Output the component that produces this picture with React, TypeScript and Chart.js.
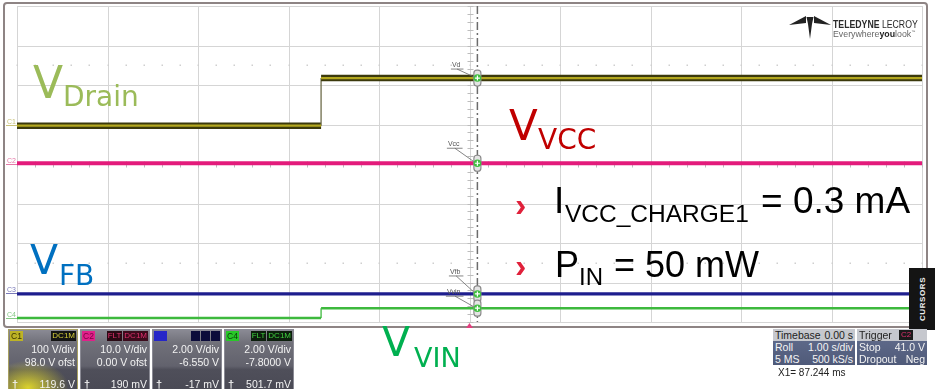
import React, { useEffect, useRef } from "react";
import { Chart, registerables } from "chart.js";
Chart.register(...registerables);

// ---------------- data ----------------
const timeS = [-5, -1.64, -1.64, 5]; // seconds, 1 s/div, trigger at centre
const vDrain = [-1.0, -1.0, 119.6, 119.6]; // C1 (V)
const vVcc = [0.19, 0.19, 0.19, 0.19]; // C2 (V)
const vFb = [-0.03, -0.03, -0.03, -0.03]; // C3 (V)
const vVin = [0.0, 0.0, 0.5, 0.5]; // C4 (V)
const voltsPerDiv = [100, 10, 2, 2];
const offsetsV = [98.0, 0.0, -6.55, -7.8];
const channelNames = ["C1", "C2", "C3", "C4"];
const cursorNames = ["Vd", "Vcc", "Vfb", "Vvin"];
const cursorX1 = 0.087244; // s
const timePerDiv = 1;
const hDivs = 10;
const vDivs = 8;

// ---------------- styles ----------------
const channelLabelColors = ["#c9c27a", "#e47aa8", "#7a7ab8", "#86c886"];
const cursorLabelOffsets = [
  [-25.5, -11],
  [-29.5, -17],
  [-27.5, -20],
  [-30.5, -14],
];
const ARIAL = "'Liberation Sans', Arial, sans-serif";
const DEJAVU = "'DejaVu Sans', Verdana, sans-serif";

const scaleIds = ["c1", "c2", "c3", "c4"];
const channelData = [vDrain, vVcc, vFb, vVin];

function pts(ys: number[]) {
  return timeS.map((t, i) => ({ x: t, y: ys[i] }));
}

function valueAt(ys: number[], t: number) {
  let v = ys[0];
  for (let i = 0; i < timeS.length; i++) if (timeS[i] <= t) v = ys[i];
  return v;
}

const isVertical = (c: any) => c.p0.parsed.x === c.p1.parsed.x;

const scopePlugin = {
  id: "scope",
  beforeDraw(chart: any) {
    const ctx = chart.ctx;
    const { left, right, top, bottom } = chart.chartArea;
    ctx.save();
    ctx.fillStyle = "#ffffff";
    ctx.fillRect(0, 0, chart.width, chart.height);
    // outer frame
    ctx.strokeStyle = "#8e8484";
    ctx.lineWidth = 2;
    ctx.beginPath();
    ctx.roundRect(4, 3, 923, 324, 3);
    ctx.stroke();
    const xs = chart.scales.x;
    const ys = chart.scales.c2;
    ctx.strokeStyle = "#d5d5d5";
    ctx.lineWidth = 1;
    for (let i = 0; i <= hDivs; i++) {
      const px = Math.round(xs.getPixelForValue(xs.min + i * timePerDiv)) + 0.5;
      ctx.beginPath();
      ctx.moveTo(px, top);
      ctx.lineTo(px, bottom);
      ctx.stroke();
    }
    for (let j = 0; j <= vDivs; j++) {
      const py = Math.round(ys.getPixelForValue(ys.min + j * voltsPerDiv[1])) + 0.5;
      ctx.beginPath();
      ctx.moveTo(left, py);
      ctx.lineTo(right, py);
      ctx.stroke();
    }
    // minor ticks on centre axes
    const cx = Math.round(xs.getPixelForValue(0)) + 0.5;
    const cy = Math.round(ys.getPixelForValue(0)) + 0.5;
    ctx.strokeStyle = "#bdbdbd";
    for (let k = -25; k <= 25; k++) {
      const px = Math.round(xs.getPixelForValue(k * 0.2 * timePerDiv)) + 0.5;
      ctx.beginPath();
      ctx.moveTo(px, cy - 3);
      ctx.lineTo(px, cy + 3);
      ctx.stroke();
    }
    for (let k = -20; k <= 20; k++) {
      const py = Math.round(ys.getPixelForValue(k * 0.2 * voltsPerDiv[1])) + 0.5;
      ctx.beginPath();
      ctx.moveTo(cx - 3, py);
      ctx.lineTo(cx + 3, py);
      ctx.stroke();
    }
    // dotted rows
    ctx.fillStyle = "#cfcfcf";
    [2.5, -2.5].forEach((d) => {
      const py = Math.round(ys.getPixelForValue(d * voltsPerDiv[1]));
      for (let k = -25; k <= 25; k++) {
        const px = Math.round(xs.getPixelForValue(k * 0.2 * timePerDiv));
        ctx.fillRect(px - 0.5, py - 0.5, 1.5, 1.5);
      }
    });
    ctx.restore();
  },
  afterDatasetsDraw(chart: any) {
    const ctx = chart.ctx;
    const { top, bottom } = chart.chartArea;
    const xs = chart.scales.x;
    ctx.save();
    // cursor line
    const px = xs.getPixelForValue(cursorX1);
    ctx.strokeStyle = "#6c6c6c";
    ctx.lineWidth = 1.5;
    ctx.setLineDash([8, 3, 2, 3]);
    ctx.beginPath();
    ctx.moveTo(px, top);
    ctx.lineTo(px, bottom);
    ctx.stroke();
    ctx.setLineDash([]);
    // markers + labels
    channelData.forEach((ys, i) => {
      const sc = chart.scales[scaleIds[i]];
      const py = sc.getPixelForValue(valueAt(ys, cursorX1));
      const [dx, dy] = cursorLabelOffsets[i];
      ctx.font = `7px ${ARIAL}`;
      const tw = ctx.measureText(cursorNames[i]).width;
      const lx = px + dx;
      const lb = py + dy;
      ctx.fillStyle = "#555";
      ctx.fillText(cursorNames[i], lx, lb);
      ctx.strokeStyle = "#666";
      ctx.lineWidth = 0.8;
      ctx.beginPath();
      ctx.moveTo(lx - 1, lb + 2);
      ctx.lineTo(lx + tw + 3, lb + 2);
      ctx.moveTo(lx + tw * 0.6, lb + 2);
      ctx.lineTo(px - 2, py - 0.5);
      ctx.stroke();
      // capsule
      ctx.fillStyle = "#e4e4e4";
      ctx.strokeStyle = "#8a8a8a";
      ctx.lineWidth = 1.2;
      ctx.beginPath();
      ctx.roundRect(px - 3.5, py - 8, 7, 16, 3);
      ctx.fill();
      ctx.stroke();
      ctx.fillStyle = "#3fbf3f";
      ctx.beginPath();
      ctx.arc(px, py, 3.8, 0, Math.PI * 2);
      ctx.fill();
      ctx.strokeStyle = "#ffffff";
      ctx.lineWidth = 1.2;
      ctx.beginPath();
      ctx.moveTo(px - 2.5, py);
      ctx.lineTo(px + 2.5, py);
      ctx.moveTo(px, py - 2.5);
      ctx.lineTo(px, py + 2.5);
      ctx.stroke();
    });
    // channel ground labels on the left
    channelData.forEach((_, i) => {
      const sc = chart.scales[scaleIds[i]];
      const py = Math.round(sc.getPixelForValue(0)) + 0.5;
      ctx.strokeStyle = channelLabelColors[i];
      ctx.lineWidth = 1;
      ctx.beginPath();
      ctx.moveTo(6, py);
      ctx.lineTo(17, py);
      ctx.stroke();
      ctx.fillStyle = channelLabelColors[i];
      ctx.font = `7px ${ARIAL}`;
      ctx.fillText(channelNames[i], 7, py - 1.5);
    });
    // trigger marker
    const tx = xs.getPixelForValue(0);
    ctx.fillStyle = "#e2407e";
    ctx.beginPath();
    ctx.moveTo(tx - 3.5, bottom + 6);
    ctx.lineTo(tx + 3.5, bottom + 6);
    ctx.lineTo(tx, bottom + 1);
    ctx.closePath();
    ctx.fill();
    ctx.restore();
  },
};

type TxtProps = {
  x?: number;
  r?: number;
  b: number;
  size: number;
  color: string;
  fam?: string;
  weight?: number | string;
  children: React.ReactNode;
  style?: React.CSSProperties;
};
function Txt({ x, r, b, size, color, fam = ARIAL, weight = 400, children, style }: TxtProps) {
  const s: React.CSSProperties = {
    position: "absolute",
    top: b - 0.846 * size,
    fontSize: size,
    lineHeight: 1,
    fontFamily: fam,
    color,
    fontWeight: weight as any,
    whiteSpace: "nowrap",
    ...style,
  };
  if (x !== undefined) s.left = x;
  if (r !== undefined) s.right = r;
  return <span style={s}>{children}</span>;
}

type Flag = { t: string; c: string; bg: string };
function ChannelBox(props: {
  left: number;
  tag: string;
  tagBg: string;
  tagColor: string;
  flags: Flag[];
  lines: string[];
  glow?: string;
  border: string;
}) {
  const { left, tag, tagBg, tagColor, flags, lines, glow, border } = props;
  return (
    <div
      style={{
        position: "absolute",
        left,
        top: 329,
        width: 70,
        height: 62,
        boxSizing: "border-box",
        border: `1px solid ${border}`,
        background:
          (glow ? `radial-gradient(ellipse 60% 45% at 28% 96%, ${glow}, rgba(0,0,0,0) 100%), ` : "") +
          "linear-gradient(to bottom, #8a8a94 0%, #707079 22%, #62626d 60%, #4f4f5a 66%, #4a4a55 100%)",
        overflow: "hidden",
      }}
    >
      <div
        style={{
          position: "absolute",
          left: 1,
          top: 1,
          width: 13,
          height: 10,
          background: tagBg,
          color: tagColor,
          fontFamily: ARIAL,
          fontSize: 8.5,
          lineHeight: "10px",
          textAlign: "center",
        }}
      >
        {tag}
      </div>
      <div style={{ position: "absolute", right: 1, top: 1, display: "flex", gap: 1 }}>
        {flags.map((f, i) => (
          <div
            key={i}
            style={{
              background: f.bg,
              color: f.c,
              fontFamily: ARIAL,
              fontSize: 8,
              lineHeight: "10px",
              height: 10,
              minWidth: 7,
              padding: "0 1px",
              textAlign: "center",
            }}
          >
            {f.t}
          </div>
        ))}
      </div>
      <Txt r={2} b={23} size={10.5} color="#f2f2f2">
        {lines[0]}
      </Txt>
      <Txt r={2} b={36} size={10.5} color="#f2f2f2">
        {lines[1]}
      </Txt>
      <Txt x={3} b={58} size={11} color="#f2f2f2" weight={700}>
        †
      </Txt>
      <Txt r={2} b={58} size={10.5} color="#f2f2f2">
        {lines[2]}
      </Txt>
    </div>
  );
}

function InfoBox(props: { left: number; width: number; head: React.ReactNode; rows: [string, string][] }) {
  const { left, width, head, rows } = props;
  return (
    <div style={{ position: "absolute", left, top: 329, width, height: 36 }}>
      <div
        style={{
          position: "absolute",
          left: 0,
          top: 0,
          width,
          height: 12,
          background: "#c6c8ce",
        }}
      >
        {head}
      </div>
      <div
        style={{
          position: "absolute",
          left: 0,
          top: 12,
          width,
          height: 24,
          background: "linear-gradient(to bottom, #5d6888, #4f5a79)",
        }}
      >
        {rows.map((r, i) => (
          <React.Fragment key={i}>
            <Txt x={2} b={10 + i * 12} size={10.5} color="#f4f4f4">
              {r[0]}
            </Txt>
            <Txt r={2} b={10 + i * 12} size={10.5} color="#f4f4f4">
              {r[1]}
            </Txt>
          </React.Fragment>
        ))}
      </div>
    </div>
  );
}

export default function App() {
  const canvasRef = useRef<HTMLCanvasElement | null>(null);

  useEffect(() => {
    const canvas = canvasRef.current;
    if (!canvas) return;
    const scales: any = {
      x: { type: "linear", min: timeS[0], max: timeS[timeS.length - 1], display: false },
    };
    scaleIds.forEach((id, i) => {
      const centre = -offsetsV[i];
      scales[id] = {
        type: "linear",
        min: centre - (vDivs / 2) * voltsPerDiv[i],
        max: centre + (vDivs / 2) * voltsPerDiv[i],
        display: false,
      };
    });
    const base = { pointRadius: 0, tension: 0, fill: false, borderJoinStyle: "miter" as const };
    const chart = new Chart(canvas, {
      type: "line",
      data: {
        datasets: [
          {
            ...base,
            label: "C4 VIN",
            data: pts(vVin),
            yAxisID: "c4",
            borderColor: "#3db93d",
            borderWidth: 2.5,
            order: 5,
            segment: { borderWidth: (c: any) => (isVertical(c) ? 1.3 : undefined) },
          },
          {
            ...base,
            label: "C3 FB",
            data: pts(vFb),
            yAxisID: "c3",
            borderColor: "#1e1e8e",
            borderWidth: 3.2,
            order: 4,
          },
          {
            ...base,
            label: "C2 VCC",
            data: pts(vVcc),
            yAxisID: "c2",
            borderColor: "#e31b7b",
            borderWidth: 4,
            order: 3,
          },
          {
            ...base,
            label: "C1 Drain outer",
            data: pts(vDrain),
            yAxisID: "c1",
            borderColor: "#3b390c",
            borderWidth: 6.5,
            order: 2,
            segment: {
              borderWidth: (c: any) => (isVertical(c) ? 1.3 : undefined),
              borderColor: (c: any) => (isVertical(c) ? "#6e6c4a" : undefined),
            },
          },
          {
            ...base,
            label: "C1 Drain",
            data: pts(vDrain),
            yAxisID: "c1",
            borderColor: "#b3a71e",
            borderWidth: 2.2,
            order: 1,
            segment: { borderColor: (c: any) => (isVertical(c) ? "rgba(0,0,0,0)" : undefined) },
          },
        ],
      },
      options: {
        responsive: false,
        maintainAspectRatio: false,
        devicePixelRatio: 1,
        animation: false,
        events: [],
        layout: { padding: { left: 17, right: 13, top: 6, bottom: 67 } },
        scales,
        plugins: { legend: { display: false }, tooltip: { enabled: false } },
      },
      plugins: [scopePlugin],
    });
    return () => chart.destroy();
  }, []);

  return (
    <div
      style={{
        position: "absolute",
        left: 0,
        top: 0,
        width: 935,
        height: 389,
        overflow: "hidden",
        background: "#fff",
      }}
    >
      <canvas
        ref={canvasRef}
        width={935}
        height={389}
        style={{ position: "absolute", left: 0, top: 0, width: 935, height: 389 }}
      />

      {/* logo */}
      <svg
        style={{ position: "absolute", left: 789, top: 15 }}
        width={42}
        height={25}
        viewBox="0 0 42 25"
      >
        <polygon points="0,10 17,1 17,8" fill="#222" />
        <polygon points="42,10 25,1 25,8" fill="#222" />
        <polygon points="17.5,2 24.5,2 23,9 21,24 19,9" fill="#222" />
      </svg>
      <Txt x={833} b={28} size={10.5} color="#2a2a2a" style={{ transform: "scaleX(0.83)", transformOrigin: "left" }}>
        <b>TELEDYNE</b> LECROY
      </Txt>
      <Txt x={833} b={37} size={8.8} color="#666">
        Everywhere<b style={{ color: "#222" }}>you</b>look<sup style={{ fontSize: 4 }}>™</sup>
      </Txt>

      {/* trace annotations */}
      <Txt x={33} b={98} size={44} color="#9bbb59" fam={DEJAVU}>
        V
      </Txt>
      <Txt x={63} b={107} size={28} color="#9bbb59" fam={DEJAVU}>
        Drain
      </Txt>

      <Txt x={509} b={141} size={42} color="#c00000" fam={DEJAVU}>
        V
      </Txt>
      <Txt x={538} b={150} size={28} color="#c00000" fam={DEJAVU}>
        VCC
      </Txt>

      <Txt x={30} b={275} size={41} color="#0070c0" fam={DEJAVU}>
        V
      </Txt>
      <Txt x={59} b={286} size={28} color="#0070c0" fam={DEJAVU}>
        FB
      </Txt>

      <Txt x={382} b={357} size={41} color="#00b050" fam={DEJAVU}>
        V
      </Txt>
      <Txt x={414} b={367} size={27} color="#00b050" fam={DEJAVU}>
        VIN
      </Txt>

      {/* bullets */}
      <Txt x={515} b={216} size={34} color="#e0203a" weight={700}>
        ›
      </Txt>
      <Txt x={554} b={213} size={37} color="#000">
        I
      </Txt>
      <Txt x={565} b={223} size={24.5} color="#000">
        VCC_CHARGE1
      </Txt>
      <Txt x={761} b={213} size={37} color="#000">
        = 0.3 mA
      </Txt>

      <Txt x={515} b={277} size={34} color="#e0203a" weight={700}>
        ›
      </Txt>
      <Txt x={555} b={277} size={36} color="#000">
        P
      </Txt>
      <Txt x={579} b={285} size={24} color="#000">
        IN
      </Txt>
      <Txt x={614} b={277} size={36} color="#000">
        = 50 mW
      </Txt>

      {/* CURSORS tab */}
      <div
        style={{
          position: "absolute",
          left: 909,
          top: 268,
          width: 26,
          height: 62,
          background: "#141414",
        }}
      >
        <div
          style={{
            position: "absolute",
            left: 13,
            top: 31,
            transform: "translate(-50%, -50%) rotate(-90deg)",
            color: "#f0f0f0",
            fontFamily: ARIAL,
            fontWeight: 700,
            fontSize: 8,
            letterSpacing: 0.6,
            whiteSpace: "nowrap",
          }}
        >
          CURSORS
        </div>
      </div>

      {/* channel boxes */}
      <ChannelBox
        left={8}
        tag="C1"
        tagBg="#bdb326"
        tagColor="#3a3500"
        border="#a8a060"
        glow="rgba(235,225,40,0.9)"
        flags={[{ t: "DC1M", c: "#d6cf3a", bg: "#141414" }]}
        lines={["100 V/div", "98.0 V ofst", "119.6 V"]}
      />
      <ChannelBox
        left={80}
        tag="C2"
        tagBg="#e0208a"
        tagColor="#7a0040"
        border="#8a8a94"
        flags={[
          { t: "FLT", c: "#e0306e", bg: "#2a0a14" },
          { t: "DC1M", c: "#e0306e", bg: "#3c0b1c" },
        ]}
        lines={["10.0 V/div", "0.00 V ofst", "190 mV"]}
      />
      <ChannelBox
        left={152}
        tag="C3"
        tagBg="#2626c8"
        tagColor="#2626c8"
        border="#8a8a94"
        flags={[
          { t: " ", c: "#1c1c80", bg: "#0c0c3a" },
          { t: " ", c: "#1c1c80", bg: "#0c0c3a" },
          { t: " ", c: "#1c1c80", bg: "#0c0c3a" },
        ]}
        lines={["2.00 V/div", "-6.550 V", "-17 mV"]}
      />
      <ChannelBox
        left={224}
        tag="C4"
        tagBg="#28c828"
        tagColor="#0a3a0a"
        border="#8a8a94"
        flags={[
          { t: "FLT", c: "#40d040", bg: "#0c1e0c" },
          { t: "DC1M", c: "#40d040", bg: "#0c1e0c" },
        ]}
        lines={["2.00 V/div", "-7.8000 V", "501.7 mV"]}
      />

      {/* timebase / trigger */}
      <InfoBox
        left={773}
        width={82}
        head={
          <>
            <Txt x={2} b={10} size={10.5} color="#222">
              Timebase
            </Txt>
            <Txt r={2} b={10} size={10.5} color="#222">
              0.00 s
            </Txt>
          </>
        }
        rows={[
          ["Roll", "1.00 s/div"],
          ["5 MS", "500 kS/s"],
        ]}
      />
      <InfoBox
        left={857}
        width={70}
        head={
          <>
            <Txt x={2} b={10} size={10.5} color="#222">
              Trigger
            </Txt>
            <div
              style={{
                position: "absolute",
                left: 42,
                top: 1,
                width: 14,
                height: 10,
                background: "#1a1a1a",
                color: "#e0306e",
                fontFamily: ARIAL,
                fontSize: 8,
                lineHeight: "10px",
                textAlign: "center",
              }}
            >
              C2
            </div>
          </>
        }
        rows={[
          ["Stop", "41.0 V"],
          ["Dropout", "Neg"],
        ]}
      />
      <Txt x={778} b={376} size={10} color="#222">
        X1= 87.244 ms
      </Txt>
    </div>
  );
}
